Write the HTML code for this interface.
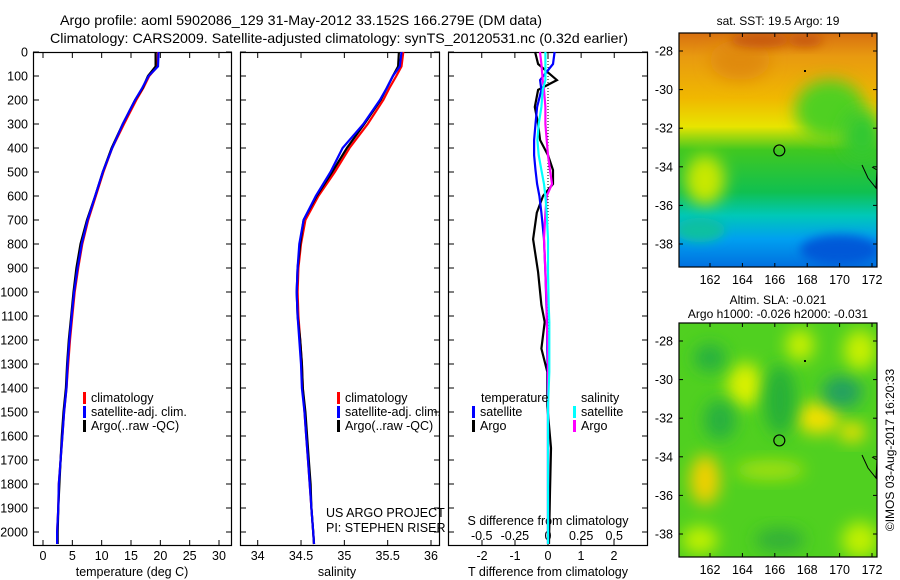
<!DOCTYPE html>
<html><head><meta charset="utf-8"><style>
body{margin:0;background:#fff}
svg{display:block;font-family:"Liberation Sans",sans-serif;font-size:12.5px}
</style></head><body>
<svg id="s" width="900" height="580" viewBox="0 0 900 580">
<defs>
<filter id="bl" x="-50%" y="-50%" width="200%" height="200%"><feGaussianBlur stdDeviation="8"/></filter>
<filter id="bl2" x="-50%" y="-50%" width="200%" height="200%"><feGaussianBlur stdDeviation="5"/></filter>
<clipPath id="c1"><rect x="679" y="33" width="198" height="234"/></clipPath>
<clipPath id="c2"><rect x="679" y="323" width="198" height="234"/></clipPath>
<linearGradient id="sstg" x1="0" y1="0" x2="0" y2="1">
<stop offset="0" stop-color="#d87010"/><stop offset="0.1" stop-color="#e89a10"/><stop offset="0.28" stop-color="#f0b800"/>
<stop offset="0.4" stop-color="#e8e400"/><stop offset="0.5" stop-color="#40c820"/><stop offset="0.68" stop-color="#10c050"/>
<stop offset="0.78" stop-color="#00c8b8"/><stop offset="0.88" stop-color="#00a0f0"/><stop offset="1" stop-color="#0070e0"/>
</linearGradient>
</defs>
<text x="60" y="25" textLength="482" lengthAdjust="spacingAndGlyphs" font-size="14">Argo profile: aoml 5902086_129 31-May-2012 33.152S 166.279E (DM data)</text>
<text x="50" y="43" textLength="578" lengthAdjust="spacingAndGlyphs" font-size="14">Climatology: CARS2009. Satellite-adjusted climatology: synTS_20120531.nc (0.32d earlier)</text>
<g clip-path="url(#c1)">
<rect x="679" y="33" width="198" height="234" fill="url(#sstg)"/>
<ellipse cx="830" cy="110" rx="35" ry="30" fill="#50d020" filter="url(#bl)"/>
<ellipse cx="862" cy="135" rx="20" ry="25" fill="#30c830" filter="url(#bl)"/>
<ellipse cx="705" cy="180" rx="20" ry="25" fill="#c8e800" filter="url(#bl)"/>
<ellipse cx="740" cy="60" rx="30" ry="20" fill="#e08a10" filter="url(#bl)"/>
<ellipse cx="760" cy="40" rx="30" ry="8" fill="#c85a08" filter="url(#bl2)"/>
<ellipse cx="805" cy="40" rx="18" ry="7" fill="#c85a08" filter="url(#bl2)"/>
<ellipse cx="840" cy="250" rx="40" ry="15" fill="#0058d8" filter="url(#bl2)"/>
<ellipse cx="700" cy="230" rx="25" ry="12" fill="#10c0a0" filter="url(#bl2)"/>
</g>
<g clip-path="url(#c2)">
<rect x="679" y="323" width="198" height="234" fill="#50d020"/>
<ellipse cx="745" cy="385" rx="18" ry="22" fill="#d8f000" filter="url(#bl)"/>
<ellipse cx="705" cy="480" rx="15" ry="25" fill="#f0d000" filter="url(#bl)"/>
<ellipse cx="818" cy="418" rx="22" ry="16" fill="#f0e000" filter="url(#bl)"/>
<ellipse cx="852" cy="432" rx="14" ry="10" fill="#e8e000" filter="url(#bl)"/>
<ellipse cx="842" cy="392" rx="20" ry="16" fill="#20a060" filter="url(#bl)"/>
<ellipse cx="710" cy="358" rx="16" ry="14" fill="#28b040" filter="url(#bl)"/>
<ellipse cx="720" cy="420" rx="16" ry="20" fill="#28b040" filter="url(#bl)"/>
<ellipse cx="780" cy="400" rx="16" ry="35" fill="#28b038" filter="url(#bl)"/>
<ellipse cx="770" cy="470" rx="35" ry="10" fill="#a0e010" filter="url(#bl)"/>
<ellipse cx="860" cy="540" rx="18" ry="18" fill="#c0f000" filter="url(#bl)"/>
<ellipse cx="700" cy="540" rx="18" ry="14" fill="#c0f000" filter="url(#bl)"/>
<ellipse cx="780" cy="540" rx="25" ry="12" fill="#30b038" filter="url(#bl)"/>
<ellipse cx="860" cy="350" rx="16" ry="20" fill="#c8f000" filter="url(#bl)"/>
<ellipse cx="800" cy="345" rx="14" ry="16" fill="#c8f000" filter="url(#bl)"/>
</g>
<g id="g"></g>
<text x="778" y="25" text-anchor="middle" font-size="12">sat. SST: 19.5 Argo: 19</text>
<text x="778" y="304" text-anchor="middle" font-size="12">Altim. SLA: -0.021</text>
<text x="778" y="318" text-anchor="middle" font-size="12">Argo h1000: -0.026 h2000: -0.031</text>
<text transform="translate(894,450) rotate(-90)" text-anchor="middle" font-size="12">©IMOS 03-Aug-2017 16:20:33</text>
</svg>
<script>
const depthT=[0,60,100,150,200,300,400,500,600,700,800,900,1000,1100,1200,1300,1400,1500,1600,1700,1800,1900,2000,2050];
const tempClim=[19.6,19.5,18.1,17.1,15.9,13.8,11.8,10.3,9.0,7.7,6.7,6.0,5.4,5.0,4.6,4.3,4.0,3.6,3.3,3.0,2.7,2.6,2.4,2.4];
const tempSat=[19.7,19.6,18.0,16.9,15.7,13.6,11.8,10.2,8.9,7.6,6.6,5.9,5.3,4.9,4.5,4.2,4.0,3.6,3.3,3.0,2.7,2.6,2.4,2.4];
const tempArgo=[19.2,19.2,17.9,17.0,15.7,13.6,11.7,10.2,8.9,7.5,6.4,5.7,5.2,4.8,4.4,4.1,3.9,3.5,3.2,3.0,2.8,2.6,2.5,2.5];
const salClim=[35.68,35.66,35.6,35.52,35.45,35.27,35.06,34.89,34.70,34.55,34.50,34.47,34.46,34.47,34.49,34.51,34.52,34.54,34.56,34.58,34.60,34.62,34.64,34.65];
const salSat=[35.66,35.64,35.56,35.49,35.41,35.22,34.98,34.84,34.67,34.53,34.48,34.46,34.45,34.46,34.48,34.50,34.51,34.54,34.56,34.58,34.60,34.62,34.64,34.65];
const salArgo=[35.63,35.62,35.56,35.49,35.42,35.23,35.03,34.86,34.68,34.53,34.49,34.46,34.45,34.46,34.49,34.51,34.52,34.55,34.57,34.59,34.61,34.62,34.64,34.65];
const depthD=[0,50,117,158,229,300,367,430,492,550,600,670,780,917,1054,1125,1236,1333,1475,1650,1830,2050];
const dTArgo=[-0.39,-0.3,0.27,-0.3,-0.4,-0.3,-0.24,0.0,0.15,0.15,-0.15,-0.34,-0.45,-0.3,-0.2,-0.1,-0.2,-0.02,-0.02,0.09,0.06,0.03];
const dTSat=[0.2,0.15,-0.24,-0.2,-0.33,-0.38,-0.42,-0.42,-0.38,-0.33,-0.26,-0.2,-0.12,-0.08,-0.05,-0.03,-0.02,-0.01,0.0,0.0,0.0,0.0];
const dSArgo=[-0.06,-0.05,-0.04,-0.03,-0.02,-0.02,-0.01,0.0,0.015,0.03,-0.01,-0.02,-0.03,-0.02,-0.01,-0.01,0.0,0.0,0.0,0.0,0.0,0.0];
const dSSat=[-0.02,-0.02,-0.02,-0.04,-0.05,-0.07,-0.08,-0.07,-0.05,-0.03,-0.02,-0.01,0.0,0.0,0.005,0.01,0.01,0.01,0.0,0.0,0.0,0.0];
const depthTicks=[0,100,200,300,400,500,600,700,800,900,1000,1100,1200,1300,1400,1500,1600,1700,1800,1900,2000];
const tTicks=[0,5,10,15,20,25,30];
const sTicks=[34,34.5,35,35.5,36];
const dTTicks=[-2,-1,0,1,2];
const dTLabels=["-2","-1","0","1","2"];
const dSTicks=[-0.5,-0.25,0,0.25,0.5];
const lonTicks=[162,164,166,168,170,172];
const latTicks=[-28,-30,-32,-34,-36,-38];
const argoLon=166.279, argoLat=-33.152;
const yD=d=>52+d*0.24;
const xT=t=>43+t*5.867;
const xS=s=>257.7+(s-34)*86.65;
const xDT=t=>548+t*33;
const xDS=s=>548+s*132.5;
const xLon=l=>710+(l-162)*16.2;
const yLat=(l,off)=>51+off+(-28-l)*19.3;
const NS='http://www.w3.org/2000/svg';
const G=document.getElementById('g');
function el(tag,attrs,parent){const e=document.createElementNS(NS,tag);for(const k in attrs)e.setAttribute(k,attrs[k]);(parent||G).appendChild(e);return e;}
function txt(x,y,s,anchor,parent){const t=el('text',{x:x,y:y,'text-anchor':anchor||'start'},parent);t.textContent=s;return t;}
const panels=[[33,231,'temperature-panel'],[240,439,'salinity-panel'],[448,647,'difference-panel']];
panels.forEach((p,i)=>{
  const f=el('rect',{x:p[0]+.5,y:52.5,width:p[1]-p[0],height:493,fill:'none',stroke:'#000','stroke-width':1.2});
  
  
  depthTicks.forEach(d=>{
    el('line',{x1:p[0],x2:p[0]+6,y1:yD(d),y2:yD(d),stroke:'#000'});
    el('line',{x1:p[1]-5,x2:p[1]+1,y1:yD(d),y2:yD(d),stroke:'#000'});
    if(i===0){const t=txt(28,yD(d)+4.5,String(d),'end');
      
      }
  });
});
function xticks(vals,fx,labels,y){vals.forEach((v,k)=>{const x=fx(v);
  el('line',{x1:x,x2:x,y1:52,y2:58,stroke:'#000'});el('line',{x1:x,x2:x,y1:540,y2:546,stroke:'#000'});
  const t=txt(x,y,labels?labels[k]:String(v),'middle');
  
  });}
xticks(tTicks,xT,null,560);xticks(sTicks,xS,null,560);
dSTicks.forEach(v=>{const x=xDS(v);el('line',{x1:x,x2:x,y1:52,y2:58,stroke:'#000'});
  const t=txt(x,540,String(v),'middle');
  
  });
dTTicks.forEach((v,k)=>{const x=xDT(v);el('line',{x1:x,x2:x,y1:540,y2:546,stroke:'#000'});
  const t=txt(x,560,dTLabels[k],'middle');
  
  });
[[132,'temperature (deg C)','temperature-axis-title'],[337,'salinity','salinity-axis-title'],[548,'T difference from climatology','t-diff-axis-title']].forEach(a=>{
  const t=txt(a[0],576,a[1],'middle');});
{const t=txt(548,525,'S difference from climatology','middle');}
el('line',{x1:548,x2:548,y1:52,y2:545,stroke:'#000','stroke-dasharray':'1,2'});
function line(ds,vs,fx,col,name){const pts=ds.map((d,k)=>fx(vs[k]).toFixed(1)+','+yD(d).toFixed(1)).join(' ');
  const l=el('polyline',{points:pts,fill:'none',stroke:col,'stroke-width':2.2});
  
  }
line(depthT,tempClim,xT,'#f00','temp-climatology-line');
line(depthT,tempArgo,xT,'#000','temp-argo-line');
line(depthT,tempSat,xT,'#00f','temp-satellite-line');
line(depthT,salClim,xS,'#f00','sal-climatology-line');
line(depthT,salArgo,xS,'#000','sal-argo-line');
line(depthT,salSat,xS,'#00f','sal-satellite-line');
line(depthD,dTArgo,xDT,'#000','t-diff-argo-line');
line(depthD,dTSat,xDT,'#00f','t-diff-satellite-line');
line(depthD,dSArgo,xDS,'#f0f','s-diff-argo-line');
line(depthD,dSSat,xDS,'#0ff','s-diff-satellite-line');
function leg(x,y,col,s,name){el('rect',{x:x,y:y-10,width:3,height:12,fill:col});const t=txt(x+8,y,s);
  }
leg(83,402,'#f00','climatology','legend-climatology');leg(83,416,'#00f','satellite-adj. clim.','legend-satellite-adj');leg(83,430,'#000','Argo(..raw -QC)','legend-argo');
leg(337,402,'#f00','climatology','legend2-climatology');leg(337,416,'#00f','satellite-adj. clim.','legend2-satellite-adj');leg(337,430,'#000','Argo(..raw -QC)','legend2-argo');
{const t=txt(481,402,'temperature');}
{const t=txt(581,402,'salinity');}
leg(472,416,'#00f','satellite','legend-t-satellite');leg(472,430,'#000','Argo','legend-t-argo');
leg(573,416,'#0ff','satellite','legend-s-satellite');leg(573,430,'#f0f','Argo','legend-s-argo');
{const t=txt(326,517,'US ARGO PROJECT');}
{const t=txt(326,532,'PI: STEPHEN RISER');}
[0,290].forEach((off,mi)=>{
  const f=el('rect',{x:679,y:33+off,width:198,height:234,fill:'none',stroke:'#000','stroke-width':1.2});
  
  
  lonTicks.forEach(l=>{const x=xLon(l);el('line',{x1:x,x2:x,y1:33+off,y2:37+off,stroke:'#000'});el('line',{x1:x,x2:x,y1:263+off,y2:267+off,stroke:'#000'});
    const t=txt(x,284+off,String(l),'middle');});
  latTicks.forEach(l=>{const y=yLat(l,off);el('line',{x1:679,x2:683,y1:y,y2:y,stroke:'#000'});el('line',{x1:873,x2:877,y1:y,y2:y,stroke:'#000'});
    const t=txt(673,y+4.5,String(l),'end');});
  const c=el('circle',{cx:xLon(argoLon),cy:yLat(argoLat,off),r:5.5,fill:'none',stroke:'#000','stroke-width':1.2});
  
  el('polyline',{points:`862,${165+off} 868,${178+off} 876,${188+off} 877,${170+off} 872,${167+off}`,fill:'none',stroke:'#000'});
  el('rect',{x:804,y:70+off,width:2,height:2,fill:'#000'});
});
</script>
</body></html>
